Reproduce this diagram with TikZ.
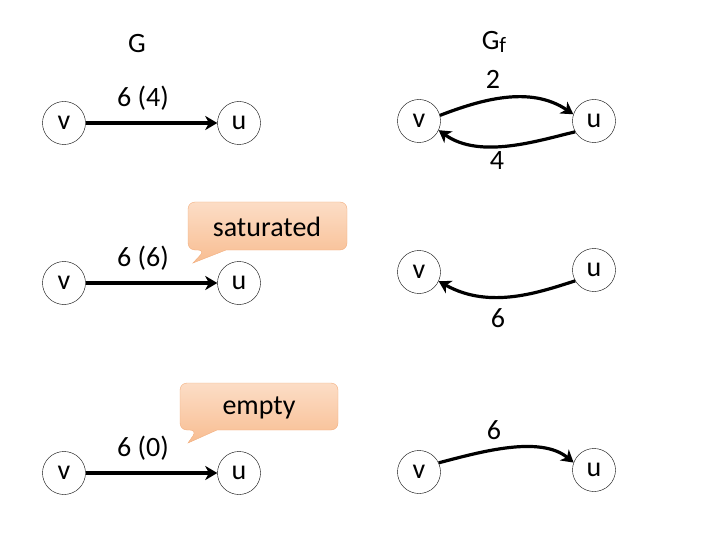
\documentclass[tikz,border=0pt]{standalone}
\usepackage{fontspec}
\setmainfont{Carlito}
\usetikzlibrary{arrows.meta}
\definecolor{cotop}{HTML}{FCDDC6}
\definecolor{cobot}{HTML}{F8BD91}
\definecolor{coline}{HTML}{F2AE7E}
\begin{document}
\begin{tikzpicture}[x=1pt,y=-1pt,
  vert/.style={circle,draw,thin,minimum size=43pt,inner sep=0pt,font=\fontsize{28}{32}\selectfont},
  lbl/.style={font=\fontsize{28}{32}\selectfont,inner sep=0pt},
  arr/.style={line width=3.2pt,-{Stealth[inset=3.5pt,length=12pt,width=14pt]}},
  callout/.style={draw=coline,thin,top color=cotop,bottom color=cobot}]
\useasboundingbox (0,0) rectangle (720,540);
% titles
\node[lbl] (G) at (137,44) {G};
\node[lbl] (Gf) at (494,42) {G\raisebox{-3pt}{\fontsize{22}{24}\selectfont f}};
% left column
\node[vert] (v1) at (64,123) {v};
\node[vert] (u1) at (239,123) {u};
\node[lbl] (l1) at (143,98) {6 (4)};
\draw[arr] (v1) -- (u1);
\node[vert] (v2) at (64,283) {v};
\node[vert] (u2) at (239,283) {u};
\node[lbl] (l2) at (143,258) {6 (6)};
\draw[arr] (v2) -- (u2);
\node[vert] (v3) at (64,473) {v};
\node[vert] (u3) at (239,473) {u};
\node[lbl] (l3) at (143,448) {6 (0)};
\draw[arr] (v3) -- (u3);
% callouts
\draw[callout] (205,250) -- (193,263) -- (226,250) [rounded corners=7pt] -- (347,250) -- (347,202) -- (188,202) -- (188,250) -- cycle;
\node[lbl] (sat) at (267,227) {saturated};
\draw[callout] (197,430) -- (188,443) -- (217,430) [rounded corners=7pt] -- (338,430) -- (338,383) -- (180,383) -- (180,430) -- cycle;
\node[lbl] (emp) at (259,408) {empty};
% right column
\node[vert] (rv1) at (419,121) {v};
\node[vert] (ru1) at (594,121) {u};
\draw[arr] (rv1.15) .. controls (480,100) and (530,85) .. (ru1.162);
\draw[arr] (ru1.-150) .. controls (540,140) and (480,160) .. (rv1.-25);
\node[lbl] (r2) at (493,79) {2};
\node[lbl] (r4) at (497,161) {4};
\node[vert] (rv2) at (419,272) {v};
\node[vert] (ru2) at (594,270) {u};
\draw[arr] (ru2.-150) .. controls (540,292) and (490,310) .. (rv2.-25);
\node[lbl] (r6a) at (498,318) {6};
\node[vert] (rv3) at (419,472) {v};
\node[vert] (ru3) at (594,470) {u};
\draw[arr] (rv3.25) .. controls (480,452) and (540,435) .. (ru3.160);
\node[lbl] (r6b) at (494,430) {6};
\end{tikzpicture}
\end{document}
